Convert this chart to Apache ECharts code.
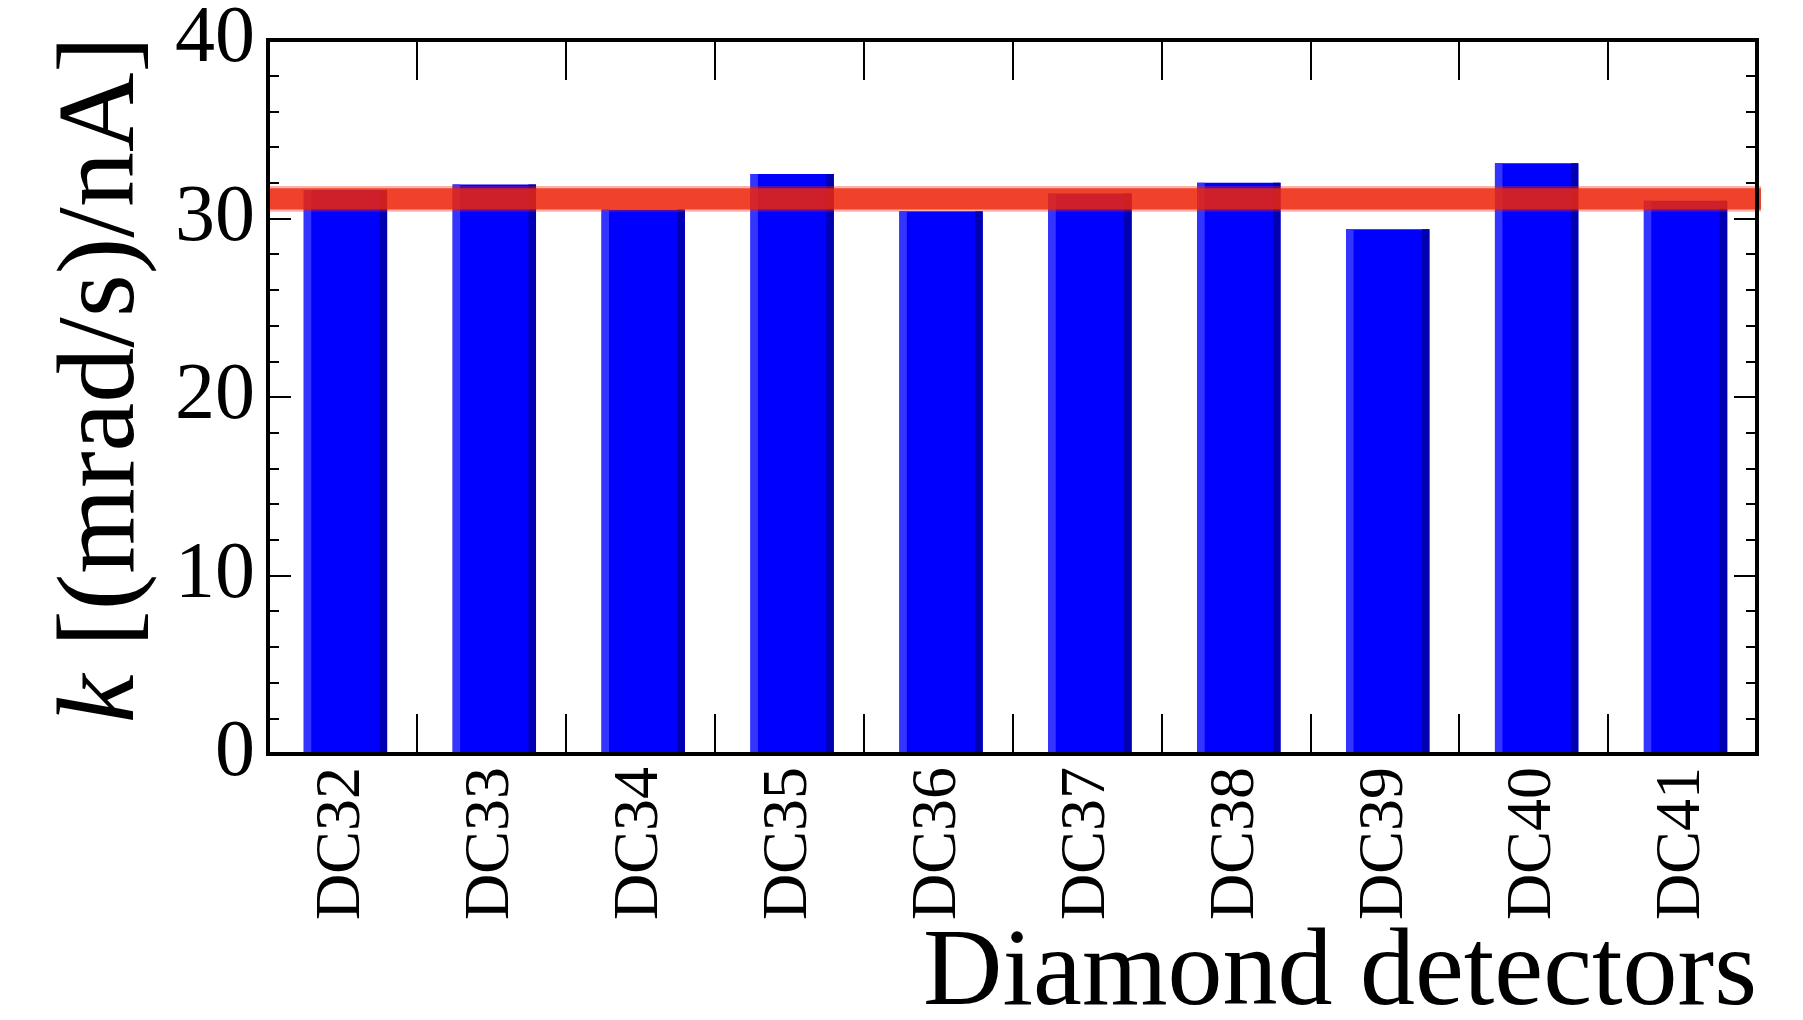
<!DOCTYPE html>
<html>
<head>
<meta charset="utf-8">
<title>Diamond detector calibration constants</title>
<script src="https://cdn.jsdelivr.net/npm/echarts@6/dist/echarts.min.js"></script>
<style>
  html, body { margin: 0; padding: 0; background: #ffffff; }
  #chart { width: 1803px; height: 1020px; }
</style>
</head>
<body>
<div id="chart"></div>
<script>
// Detector names along the x axis
const categories = ['DC32', 'DC33', 'DC34', 'DC35', 'DC36', 'DC37', 'DC38', 'DC39', 'DC40', 'DC41'];
// Calibration constant k for each detector, in (mrad/s)/nA
const kValues = [31.6, 31.9, 30.5, 32.5, 30.4, 31.4, 32.0, 29.4, 33.1, 31.0];
// Average k and its uncertainty, drawn as a horizontal band
const bandMean = 31.1;
const bandHalfWidth = 0.6;
// Y axis range and labelled ticks
const yMin = 0;
const yMax = 40;
const yStep = 10;

const FONT = 'Liberation Serif';

const chart = echarts.init(document.getElementById('chart'), null, { renderer: 'canvas' });

// ROOT-style bar: main fill with a lighter strip on the left and a darker strip on the right
function renderBar(params, api) {
  const idx = api.value(0);
  const val = api.value(1);
  const bin = api.size([1, 0])[0];
  const base = api.coord([idx, 0]);
  const top = api.coord([idx, val]);
  const x0 = base[0] - bin / 2 + 0.24 * bin;
  const w = 0.56 * bin;
  const h = base[1] - top[1];
  const strip = w * 0.09;
  return {
    type: 'group',
    children: [
      { type: 'rect', shape: { x: x0, y: top[1], width: w, height: h }, style: { fill: '#0000ff' } },
      { type: 'rect', shape: { x: x0, y: top[1], width: strip, height: h }, style: { fill: '#3434ff' } },
      { type: 'rect', shape: { x: x0 + w - strip, y: top[1], width: strip, height: h }, style: { fill: '#0000b0' } }
    ]
  };
}

// Horizontal band spanning the whole plot width
function renderBand(params, api) {
  const cs = params.coordSys;
  const mean = api.value(1);
  const hw = api.value(2);
  const yTop = api.coord([0, mean + hw])[1];
  const yBot = api.coord([0, mean - hw])[1];
  const yTopO = api.coord([0, mean + hw * 1.2])[1];
  const yBotO = api.coord([0, mean - hw * 1.2])[1];
  return {
    type: 'group',
    children: [
      { type: 'rect', shape: { x: cs.x, y: yTopO, width: cs.width + 4, height: yBotO - yTopO }, style: { fill: 'rgba(237,37,11,0.35)' } },
      { type: 'rect', shape: { x: cs.x, y: yTop, width: cs.width + 4, height: yBot - yTop }, style: { fill: 'rgba(237,37,11,0.8)' } }
    ]
  };
}

function frameLine() {
  return { show: true, onZero: false, lineStyle: { color: '#000', width: 4, cap: 'square' } };
}
function majorTick(len) {
  return { show: true, inside: true, length: len, lineStyle: { color: '#000', width: 2 } };
}

const option = {
  backgroundColor: '#ffffff',
  animation: false,
  grid: { left: 268, right: 46, top: 40, bottom: 266, containLabel: false },
  xAxis: [
    {
      type: 'category',
      data: categories,
      position: 'bottom',
      z: 10,
      axisLine: frameLine(),
      axisTick: majorTick(40),
      axisLabel: {
        show: true, rotate: 90, margin: 13, interval: 0,
        color: '#000', fontFamily: FONT, fontSize: 64
      },
      splitLine: { show: false }
    },
    {
      type: 'category',
      data: categories,
      position: 'top',
      z: 10,
      axisLine: frameLine(),
      axisTick: majorTick(40),
      axisLabel: { show: false },
      splitLine: { show: false }
    }
  ],
  yAxis: [
    {
      type: 'value',
      min: yMin, max: yMax, interval: yStep,
      position: 'left',
      z: 10,
      axisLine: frameLine(),
      axisTick: majorTick(23),
      minorTick: { show: true, splitNumber: 5, length: 11, lineStyle: { color: '#000', width: 2 } },
      axisLabel: { show: true, margin: 13, color: '#000', fontFamily: FONT, fontSize: 80 },
      splitLine: { show: false }
    },
    {
      type: 'value',
      min: yMin, max: yMax, interval: yStep,
      position: 'right',
      z: 10,
      axisLine: frameLine(),
      axisTick: majorTick(23),
      minorTick: { show: true, splitNumber: 5, length: 11, lineStyle: { color: '#000', width: 2 } },
      axisLabel: { show: false },
      splitLine: { show: false }
    }
  ],
  series: [
    {
      name: 'k',
      type: 'custom',
      xAxisIndex: 0,
      yAxisIndex: 0,
      z: 2,
      encode: { x: 0, y: 1 },
      data: categories.map((c, i) => [i, kValues[i]]),
      renderItem: renderBar
    },
    {
      name: 'mean',
      type: 'custom',
      xAxisIndex: 0,
      yAxisIndex: 0,
      z: 5,
      clip: false,
      encode: { x: 0, y: 1 },
      data: [[0, bandMean, bandHalfWidth]],
      renderItem: renderBand
    }
  ],
  graphic: [
    {
      type: 'text',
      x: 104,
      y: 36,
      rotation: Math.PI / 2,
      style: {
        text: '{i|k}{n| [(mrad/s)/nA]}',
        align: 'right',
        verticalAlign: 'middle',
        fill: '#000',
        font: '110px ' + FONT,
        rich: {
          i: { fontStyle: 'italic', fontSize: 110, fontFamily: FONT, fill: '#000' },
          n: { fontSize: 110, fontFamily: FONT, fill: '#000' }
        }
      }
    },
    {
      type: 'text',
      x: 1757,
      y: 975,
      style: {
        text: 'Diamond detectors',
        align: 'right',
        verticalAlign: 'middle',
        fill: '#000',
        font: '110px ' + FONT
      }
    }
  ]
};

chart.setOption(option);
</script>
</body>
</html>
